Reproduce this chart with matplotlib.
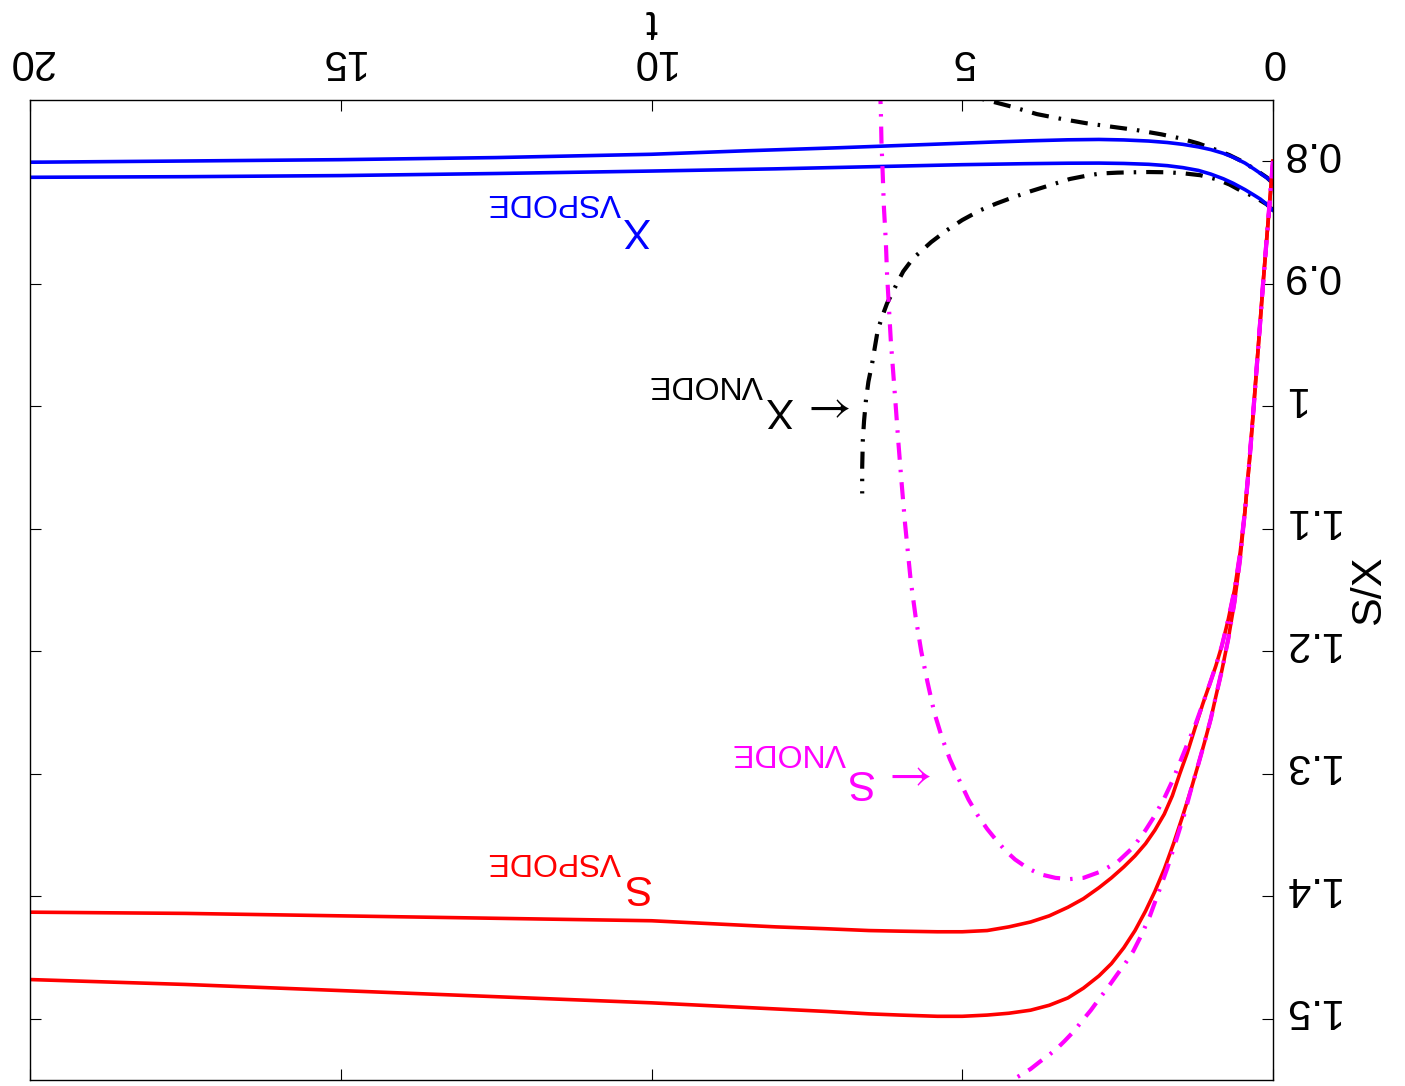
import matplotlib
matplotlib.use('Agg')
import matplotlib.pyplot as plt
import matplotlib.transforms as mtransforms

plt.rcParams['font.family'] = ['Liberation Sans', 'DejaVu Sans']

# time axis ticks
t_ticks = [0, 5, 10, 15, 20]
t_ticklabels = ['0', '5', '10', '15', '20']
sx_ticks = [0.8, 0.9, 1.0, 1.1, 1.2, 1.3, 1.4, 1.5]
sx_ticklabels = ['0.8', '0.9', '1', '1.1', '1.2', '1.3', '1.4', '1.5']

# X bounds from VSPODE (blue)
t_x_vsp_lo = [0, 0.1, 0.2, 0.3, 0.45, 0.64, 0.8, 1.0, 1.2, 1.45, 1.7, 2.0, 2.4, 2.8, 3.3, 3.9, 4.5, 5.5, 7.0,
              8.5, 10.0, 12.5, 15.0, 17.5, 20.0]
x_vsp_lo = [0.8175, 0.8135, 0.8100, 0.8065, 0.8015, 0.7967, 0.7935, 0.7905, 0.7883, 0.7862, 0.7847, 0.7835,
            0.7826, 0.7822, 0.7825, 0.7833, 0.7843, 0.7862, 0.789, 0.7915, 0.7943, 0.797, 0.7987, 0.7998, 0.8008]
t_x_vsp_hi = [0, 0.1, 0.2, 0.32, 0.45, 0.64, 0.8, 1.0, 1.2, 1.45, 1.7, 2.0, 2.4, 2.8, 3.3, 4.0, 5.0, 6.5, 8.0,
              10.0, 12.5, 15.0, 17.5, 20.0]
x_vsp_hi = [0.840, 0.8352, 0.831, 0.8272, 0.8232, 0.818, 0.8143, 0.8105, 0.8075, 0.8052, 0.8036, 0.8025, 0.8018,
            0.8015, 0.8016, 0.802, 0.8028, 0.8045, 0.8062, 0.808, 0.810, 0.8117, 0.8126, 0.8131]

# S bounds from VSPODE (red)
t_s_vsp_lo = [0, 0.04, 0.08, 0.12, 0.16, 0.2, 0.25, 0.31, 0.38, 0.45, 0.53, 0.62, 0.72, 0.82, 0.92, 1.02, 1.13,
              1.25, 1.38, 1.50, 1.62, 1.75, 1.90, 2.05, 2.22, 2.40, 2.60, 2.80, 3.05, 3.30, 3.60, 3.90, 4.25,
              4.60, 5.0, 5.40, 6.0, 6.50, 7.2, 8.0, 9.0, 10.0, 12.5, 15.0, 17.5, 20.0]
s_vsp_lo = [0.800, 0.825, 0.850, 0.875, 0.900, 0.927, 0.960, 1.000, 1.045, 1.085, 1.120, 1.150, 1.174, 1.195,
            1.212, 1.227, 1.243, 1.262, 1.283, 1.300, 1.318, 1.333, 1.346, 1.357, 1.367, 1.376, 1.385, 1.393,
            1.402, 1.409, 1.416, 1.421, 1.425, 1.428, 1.429, 1.429, 1.4285, 1.428, 1.4265, 1.425, 1.4225,
            1.420, 1.418, 1.416, 1.414, 1.413]
t_s_vsp_hi = [0, 0.04, 0.08, 0.12, 0.16, 0.2, 0.25, 0.31, 0.38, 0.45, 0.53, 0.62, 0.72, 0.82, 0.92, 1.0, 1.10,
              1.20, 1.32, 1.45, 1.60, 1.75, 1.90, 2.05, 2.22, 2.40, 2.60, 2.80, 3.05, 3.30, 3.60, 3.90, 4.25,
              4.60, 5.0, 5.40, 6.0, 6.50, 7.2, 8.0, 9.0, 10.0, 12.5, 15.0, 17.5, 20.0]
s_vsp_hi = [0.800, 0.825, 0.850, 0.875, 0.900, 0.927, 0.960, 1.000, 1.045, 1.085, 1.125, 1.160, 1.190, 1.215,
            1.237, 1.255, 1.274, 1.292, 1.313, 1.334, 1.357, 1.378, 1.396, 1.412, 1.428, 1.442, 1.455, 1.465,
            1.475, 1.483, 1.489, 1.493, 1.4955, 1.497, 1.498, 1.498, 1.497, 1.496, 1.494, 1.492, 1.4895, 1.487,
            1.482, 1.477, 1.472, 1.468]

# X bounds from VNODE (black)
t_x_vn_lo = [0, 0.1, 0.3, 0.5, 0.7, 0.9, 1.2, 1.5, 1.8, 2.2, 2.6, 3.0, 3.4, 3.8, 4.2, 4.6, 5.0]
x_vn_lo = [0.818, 0.8132, 0.8063, 0.800, 0.795, 0.791, 0.7855, 0.7812, 0.778, 0.7745, 0.7718, 0.769, 0.7655,
           0.7615, 0.7555, 0.7502, 0.745]
t_x_vn_hi = [0, 0.1, 0.3, 0.5, 0.7, 0.9, 1.17, 1.45, 1.7, 2.0, 2.25, 2.5, 2.78, 3.0, 3.27, 3.59, 3.9, 4.18, 4.45,
             4.71, 5.0, 5.25, 5.5, 5.79, 5.95, 6.05, 6.13, 6.21, 6.29, 6.36, 6.45, 6.51, 6.55, 6.58, 6.60, 6.61,
             6.61]
x_vn_hi = [0.840, 0.8352, 0.829, 0.8245, 0.819, 0.8148, 0.8114, 0.8098, 0.8090, 0.8088, 0.8090, 0.8093, 0.810,
           0.8118, 0.8145, 0.8196, 0.8245, 0.8294, 0.8345, 0.840, 0.848, 0.8564, 0.866, 0.8792, 0.890, 0.8997,
           0.908, 0.916, 0.927, 0.938, 0.965, 0.980, 0.9953, 1.012, 1.028, 1.05, 1.0712]

# S bounds from VNODE (magenta)
t_s_vn_lo = [0, 0.04, 0.08, 0.12, 0.16, 0.2, 0.25, 0.31, 0.38, 0.45, 0.53, 0.62, 0.72, 0.82, 0.92, 1.02, 1.13,
             1.25, 1.38, 1.50, 1.62, 1.75, 1.90, 2.05, 2.25, 2.50, 2.78, 3.05, 3.27, 3.50, 3.75, 3.95, 4.15,
             4.30, 4.44, 4.60, 4.75, 4.90, 5.05, 5.20, 5.33, 5.45, 5.56, 5.66, 5.75, 5.83, 5.92, 5.98, 6.03,
             6.07, 6.11, 6.15, 6.18, 6.21, 6.23, 6.26, 6.28, 6.30, 6.31, 6.32]
s_vn_lo = [0.800, 0.825, 0.850, 0.875, 0.900, 0.927, 0.960, 1.000, 1.045, 1.085, 1.120, 1.150, 1.174, 1.195,
           1.212, 1.227, 1.243, 1.260, 1.276, 1.291, 1.306, 1.320, 1.334, 1.346, 1.360, 1.372, 1.380, 1.385,
           1.386, 1.385, 1.382, 1.377, 1.370, 1.363, 1.355, 1.345, 1.334, 1.321, 1.305, 1.288, 1.270, 1.250,
           1.225, 1.200, 1.172, 1.142, 1.096, 1.060, 1.028, 1.000, 0.973, 0.946, 0.919, 0.892, 0.865, 0.838,
           0.810, 0.784, 0.758, 0.745]
t_s_vn_hi = [0, 0.04, 0.08, 0.12, 0.16, 0.2, 0.25, 0.31, 0.38, 0.45, 0.53, 0.62, 0.72, 0.82, 0.92, 1.0, 1.10,
             1.20, 1.32, 1.42, 1.55, 1.70, 1.85, 1.98, 2.12, 2.25, 2.38, 2.51, 2.65, 2.80, 2.93, 3.06, 3.20,
             3.35, 3.47, 3.59, 3.75, 3.90, 4.06, 4.23, 4.50]
s_vn_hi = [0.800, 0.825, 0.850, 0.875, 0.900, 0.927, 0.960, 1.000, 1.045, 1.085, 1.125, 1.160, 1.190, 1.215,
           1.237, 1.255, 1.274, 1.292, 1.313, 1.332, 1.353, 1.377, 1.398, 1.416, 1.432, 1.445, 1.455, 1.464,
           1.474, 1.484, 1.493, 1.501, 1.510, 1.518, 1.524, 1.529, 1.535, 1.541, 1.546, 1.551, 1.560]


def flipped_text(ax, t, y, s, size, color):
    # the whole figure is shown upside down, so every text is turned 180 degrees
    ax.text(t, y, s, fontsize=size, color=color, rotation=180, rotation_mode='anchor',
            ha='left', va='baseline', clip_on=False, math_fontfamily='stix')


fig = plt.figure(figsize=(14.05, 10.86), dpi=100)
ax = fig.add_axes([30 / 1405, 6 / 1086, 1243 / 1405, 980 / 1086])

magenta = '#ff00ff'
dashdot = (0, (4.1, 2.4, 0.6, 2.4))
ax.plot(t_x_vn_lo, x_vn_lo, color='k', lw=3, linestyle=dashdot)
ax.plot(t_x_vn_hi, x_vn_hi, color='k', lw=3, linestyle=dashdot)
ax.plot(t_x_vsp_lo, x_vsp_lo, color='b', lw=2.6)
ax.plot(t_x_vsp_hi, x_vsp_hi, color='b', lw=2.6)
ax.plot(t_s_vsp_lo, s_vsp_lo, color='r', lw=2.6)
ax.plot(t_s_vsp_hi, s_vsp_hi, color='r', lw=2.6)
ax.plot(t_s_vn_lo, s_vn_lo, color=magenta, lw=3, linestyle=dashdot)
ax.plot(t_s_vn_hi, s_vn_hi, color=magenta, lw=3, linestyle=dashdot)

flipped_text(ax, 10.02, 0.846, 'X', 30, 'b')
flipped_text(ax, 10.49, 0.827, 'VSPODE', 23, 'b')
flipped_text(ax, 10.02, 1.383, 'S', 30, 'r')
flipped_text(ax, 10.49, 1.3645, 'VSPODE', 23, 'r')
flipped_text(ax, 6.66, 0.9925, r'$\leftarrow$', 34, 'k')
flipped_text(ax, 7.72, 0.9936, 'X', 30, 'k')
flipped_text(ax, 8.21, 0.9757, 'VNODE', 23, 'k')
flipped_text(ax, 5.36, 1.2925, r'$\leftarrow$', 34, magenta)
flipped_text(ax, 6.44, 1.2967, 'S', 30, magenta)
flipped_text(ax, 6.88, 1.2755, 'VNODE', 23, magenta)

ax.set_xlim(20, 0)
ax.set_ylim(1.55, 0.75)
ax.set_xticks(t_ticks)
ax.set_xticklabels(t_ticklabels)
ax.set_yticks(sx_ticks)
ax.set_yticklabels(sx_ticklabels)
ax.tick_params(axis='both', direction='in', length=8, width=0.8, labelsize=30, labelrotation=180,
               top=True, bottom=True, left=True, right=True,
               labeltop=True, labelbottom=False, labelleft=False, labelright=True)
ax.tick_params(axis='x', pad=14)
ax.tick_params(axis='y', pad=6)
# upside-down labels sit low, lift them back onto their ticks
lift = mtransforms.ScaledTranslation(0, 0.13, fig.dpi_scale_trans)
for lab in ax.get_yticklabels():
    lab.set_transform(lab.get_transform() + lift)
ax.xaxis.set_label_position('top')
ax.yaxis.set_label_position('right')
ax.set_xlabel('t', fontsize=31, rotation=180, labelpad=6)
ax.set_ylabel('S/X', fontsize=31, labelpad=7)
for sp in ax.spines.values():
    sp.set_linewidth(1.0)

fig.savefig('out.png', dpi=100)
